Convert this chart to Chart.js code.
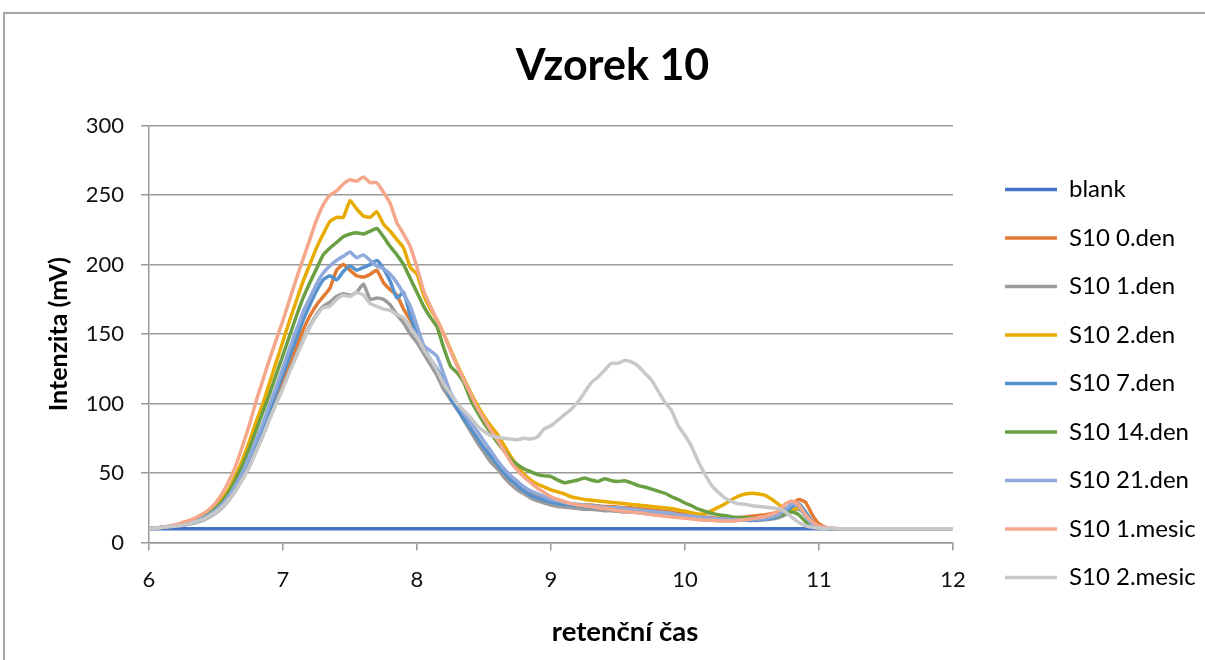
<!DOCTYPE html>
<html>
<head>
<meta charset="utf-8">
<script src="https://cdn.jsdelivr.net/npm/chart.js@4.4.1/dist/chart.umd.min.js"></script>
<style>
html,body{margin:0;padding:0;background:#fff;overflow:hidden;}
canvas{display:block;}
</style>
</head>
<body>
<canvas id="c" width="1205" height="660"></canvas>
<script>
const times = [
  6.00,6.05,6.10,6.15,6.20,6.25,6.30,6.35,6.40,6.45,
  6.50,6.55,6.60,6.65,6.70,6.75,6.80,6.85,6.90,6.95,
  7.00,7.05,7.10,7.15,7.20,7.25,7.30,7.35,7.40,7.45,
  7.50,7.55,7.60,7.65,7.70,7.75,7.80,7.85,7.90,7.95,
  8.00,8.05,8.10,8.15,8.20,8.25,8.30,8.35,8.40,8.45,
  8.50,8.55,8.60,8.65,8.70,8.75,8.80,8.85,8.90,8.95,
  9.00,9.05,9.10,9.15,9.20,9.25,9.30,9.35,9.40,9.45,
  9.50,9.55,9.60,9.65,9.70,9.75,9.80,9.85,9.90,9.95,
  10.00,10.05,10.10,10.15,10.20,10.25,10.30,10.35,10.40,10.45,
  10.50,10.55,10.60,10.65,10.70,10.75,10.80,10.85,10.90,10.95,
  11.00,11.05,11.10,11.15,11.20,11.60,12.00
];

const seriesNames = ['blank','S10 0.den','S10 1.den','S10 2.den','S10 7.den','S10 14.den','S10 21.den','S10 1.mesic','S10 2.mesic'];

const blank = [
  10,10,10,10,10,10,10,10,10,10,
  10,10,10,10,10,10,10,10,10,10,
  10,10,10,10,10,10,10,10,10,10,
  10,10,10,10,10,10,10,10,10,10,
  10,10,10,10,10,10,10,10,10,10,
  10,10,10,10,10,10,10,10,10,10,
  10,10,10,10,10,10,10,10,10,10,
  10,10,10,10,10,10,10,10,10,10,
  10,10,10,10,10,10,10,10,10,10,
  10,10,10,10,10,10,10,10,10,10,
  10,10,10,10,10,10,10
];

const s10den0 = [
  10,10.5,11,11.5,12,12.5,13.5,15,16.5,19,
  22,26.5,32,39,47,57,68,80,92,104,
  116,129,141,153,163,171,177,183,196,200,
  196,192,191,193,196,187,182,178,168,160,
  150,140,131,124,115,104,96,89,82,75,
  68,62,56,51,46,42,38,35,33,31.5,
  30,29,28.5,28,27.5,27,27,26.5,26,26,
  25.5,25,25,24.5,24,23.5,23,22.5,22,21,
  20.5,19.5,19,18.5,18,17.5,17.5,17.5,18,18.5,
  19,19.5,20,21,22,24,28,31,29,20,
  13.5,11,10.2,10,10,10,10
];

const s10den1 = [
  10,10.5,11,11.5,12,12.5,13.5,14.5,16,18.5,
  21.5,25.5,31,38,46,55,66,77,89,101,
  112,124,135,146,156,164,170,173,177,179,
  178,180,186,175,176,175,171,164,158,150,
  144,136,128,120,110,103,96,88,80,72,
  65,58,53,47,42,38,35,32,30,28.5,
  27,26,25.5,25,24.5,24,24,23.5,23,23,
  22.5,22,22,21.5,21,21,20.5,20,19.5,19,
  18.5,18,17.5,17.5,17,16.5,16.5,16,16,16,
  16,16,16.5,17,18,20,23,24,20,14,
  11.5,10.5,10,10,10,10,10
];

const s10den2 = [
  10,10.5,11,11.5,12.5,13.5,15,16.5,19,22,
  26,32,39,49,60,73,87,100,115,130,
  145,160,174,188,200,212,222,231,234,234,
  246,240,235,234,238,229,224,218,212,198,
  193,178,168,160,150,139,128,118,108,99,
  91,84,78,70,62,55,49,45,42,40,
  38,36.5,35,33,32,31,30.5,30,29.5,29,
  28.5,28,27.5,27,26.5,26,25.5,25,24.5,23.5,
  22.5,21.5,20.5,21,23,25.5,28,31,33.5,35,
  35.5,35,34,31,27.5,24.5,23.5,25,21,15,
  11.5,10.5,10,10,10,10,10
];

const s10den7 = [
  10,10.5,11,11.5,12,12.5,13.5,15,17,19.5,
  22.5,27,33,40,49,59,71,83,95,108,
  121,134,147,160,171,181,189,192,189,195,
  199,196,198,200,203,197,188,176,180,163,
  150,140,132,125,116,104,96,89,82,75,
  68,62,56,50,45,41,37,34,32,30.5,
  29,28,27.5,27,26.5,26,25.5,25,24.5,24,
  23.5,23,23,22.5,22,21.5,21,20.5,20,19.5,
  19,18.5,18,17.5,17,16.5,16.5,16,16,16,
  16,16.5,17,17.5,19,22,26,28,22,15,
  11.5,10.5,10,10,10,10,10
];

const s10den14 = [
  10,10.5,11,11.5,12.5,13.5,15,16.5,18.5,21.5,
  25,30,37,46,56,68,81,94,107,121,
  135,149,163,176,187,197,207,212,216,220,
  222,223,222,224,226,220,213,207,200,190,
  180,170,162,155,140,127,122,115,103,94,
  86,79,72,66,60,56,53,51,49,48,
  47.5,45,43,44,45,46.5,45,44,46,44.5,
  44,44.5,43,41,40,38.5,37,35.5,33,31,
  28.5,26.5,24,22.5,21,20,19.5,18.5,18,17.8,
  17.5,17.5,18,18.5,19.5,21,22,20,15,12,
  10.8,10.3,10,10,10,10,10
];

const s10den21 = [
  10,10.5,11,11.5,12,13,14,15.5,17.5,20,
  23.5,28,34,42,51,62,74,86,99,112,
  126,140,153,166,176,186,194,199,203,206,
  209,205,207,203,199,197,193,187,179,170,
  156,142,138,134,121,108,100,93,86,80,
  73,66,59,53,48,44,40,37,35,33,
  31,30,29,28,27.5,27,26.5,26,25.5,25,
  25,24.5,24,23.5,23,22.5,22,21.5,21,20,
  19.5,19,18.5,18,17.5,17,17,16.5,16.5,16.5,
  17,17,17.5,18.5,20,24,28,26,19,13,
  11,10.3,10,10,10,10,10
];

const s10mesic1 = [
  10,10.5,11,12,13,14.5,16,18,20.5,24,
  29,36,45,56,70,85,102,117,132,146,
  160,175,190,204,218,232,243,250,253,258,
  261,260,263,259,259,252,244,230,222,213,
  198,181,170,160,150,138,127,117,107,97,
  89,81,74,66,58,52,47,43,39,36,
  33,31,29.5,28,27,26.5,26,25,24.5,24,
  23,22.5,22,21.5,21,20,19.5,19,18.5,18,
  17.5,17,16.5,16,16,15.5,15.5,15.5,16,16.5,
  17,18,19,20.5,23,28,30,27,20,15,
  12,10.8,10.3,10,10,10,10
];

const s10mesic2 = [
  10,10.5,11,11.5,12,12.5,13.5,15,16.5,19,
  22,26,31.5,38,46,55,66,77,89,100,
  111,123,134,145,155,163,169,170,175,178,
  177,180,178,172,170,168,167,164,162,155,
  148,139,132,124,114,107,100,95,90,84,
  80,77,76,75,74.5,74,75,74.5,76,82,
  84,88,92,96,101,108,115,119,124,129,
  129,131,130,127,122,117,109,101,95,84,
  77,69,58,49,41,36,32,29.5,28,27.5,
  26.5,26,25.5,25,24.5,22,18,14.5,12,11,
  10.5,10.3,10.2,10,10,10,10
];

const seriesValues = [blank, s10den0, s10den1, s10den2, s10den7, s10den14, s10den21, s10mesic1, s10mesic2];
const seriesColors = ['#4472C4','#E27A33','#9B9B9B','#E8AC00','#5592CD','#6AA043','#8FA9DC','#F4A78B','#C8C8C8'];

const yTicks = [0,50,100,150,200,250,300];
const xTicks = [6,7,8,9,10,11,12];
const xTitle = 'retenční čas';
const yTitle = 'Intenzita (mV)';
const chartTitle = 'Vzorek 10';

const FONT = 'Lato, "Open Sans", "DejaVu Sans", sans-serif';

const datasets = seriesNames.map((name, i) => ({
  label: name,
  data: times.map((t, j) => ({x: t, y: seriesValues[i][j]})),
  borderColor: seriesColors[i],
  backgroundColor: seriesColors[i],
  borderWidth: 3.5,
  pointRadius: 0,
  tension: 0.15,
  fill: false,
  order: seriesNames.length - 1 - i
}));

const outerBorder = {
  id: 'outerBorder',
  beforeDraw(chart) {
    const ctx = chart.ctx;
    ctx.save();
    ctx.fillStyle = '#fff';
    ctx.fillRect(0, 0, chart.width, chart.height);
    ctx.strokeStyle = '#A6A6A6';
    ctx.lineWidth = 2;
    ctx.beginPath();
    ctx.moveTo(4, chart.height);
    ctx.lineTo(4, 13);
    ctx.lineTo(chart.width, 13);
    ctx.stroke();
    ctx.restore();
  }
};

// x-axis title, placed where the original has it (right of the plot centre)
const xAxisTitle = {
  id: 'xAxisTitle',
  afterDraw(chart) {
    const ctx = chart.ctx;
    ctx.save();
    ctx.font = 'bold 27.5px ' + FONT;
    ctx.fillStyle = '#000';
    ctx.textAlign = 'center';
    ctx.textBaseline = 'middle';
    ctx.fillText(xTitle, 625, 632);
    ctx.restore();
  }
};

// move the legend column down to where the original has it
const legendShift = {
  id: 'legendShift',
  afterLayout(chart) {
    const lg = chart.legend;
    if (lg) { lg.top += 79; lg.bottom += 79; }
  }
};

new Chart(document.getElementById('c'), {
  type: 'line',
  data: { datasets },
  options: {
    responsive: false,
    animation: false,
    layout: { padding: { left: 20, right: 0, top: 0, bottom: 51 } },
    plugins: {
      title: {
        display: true,
        text: chartTitle,
        color: '#000',
        font: { family: FONT, size: 43, weight: 'bold' },
        padding: { top: 40, bottom: 34 }
      },
      legend: {
        display: true,
        position: 'right',
        align: 'center',
        reverse: true,
        maxWidth: 224.5,
        labels: {
          usePointStyle: true,
          pointStyle: 'line',
          pointStyleWidth: 52,
          padding: 24.5,
          color: '#000',
          font: { family: FONT, size: 24 }
        }
      },
      tooltip: { enabled: false }
    },
    scales: {
      x: {
        type: 'linear',
        min: 6, max: 12,
        afterBuildTicks: s => { s.ticks = xTicks.map(v => ({value: v})); },
        grid: { display: true, drawOnChartArea: false, drawTicks: true, tickLength: 8, color: '#9A9A9A', lineWidth: 1.5 },
        border: { display: true, color: '#9A9A9A', width: 1.5 },
        ticks: { color: '#111', padding: 16, font: { family: FONT, size: 22 }, maxRotation: 0 },
        title: { display: false, text: xTitle }
      },
      y: {
        type: 'linear',
        min: 0, max: 300,
        afterBuildTicks: s => { s.ticks = yTicks.map(v => ({value: v})); },
        afterFit: s => { s.width = 129; },
        grid: { display: true, drawOnChartArea: true, drawTicks: true, tickLength: 8, color: '#9A9A9A', lineWidth: 1.5 },
        border: { display: true, color: '#9A9A9A', width: 1.5 },
        ticks: { color: '#111', padding: 17, font: { family: FONT, size: 22 } },
        title: { display: true, text: yTitle, color: '#000', font: { family: FONT, size: 25, weight: 'bold' }, padding: { top: 24, bottom: 0 } }
      },
      gap: {
        type: 'linear',
        position: 'right',
        display: true,
        grid: { display: false, drawTicks: false },
        ticks: { display: false },
        border: { display: false },
        afterFit: s => { s.width = 27.5; }
      }
    }
  },
  plugins: [outerBorder, xAxisTitle, legendShift]
});
</script>
</body>
</html>
